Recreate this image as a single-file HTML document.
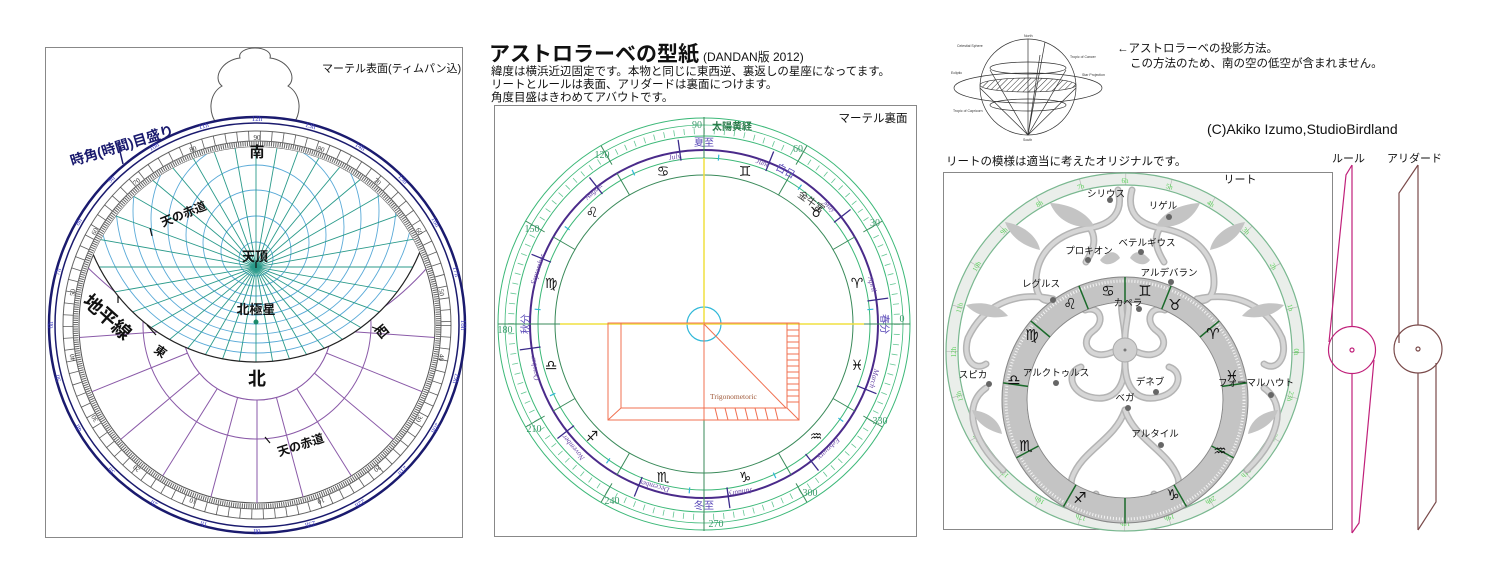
<!DOCTYPE html>
<html><head><meta charset="utf-8"><style>
html,body{margin:0;padding:0;background:#fff;}
svg{display:block;font-family:"Liberation Sans","Noto Sans CJK JP",sans-serif;}
.jp{font-family:"Liberation Sans","Noto Sans CJK JP",sans-serif;}
.sr{font-family:"Liberation Serif",serif;}
.zd{font-family:"DejaVu Sans",sans-serif;}
</style></head><body>
<svg width="1486" height="586" viewBox="0 0 1486 586" xmlns="http://www.w3.org/2000/svg">
<defs>
<clipPath id="cpH"><circle cx="256" cy="185" r="177"/></clipPath>
<clipPath id="cpP"><circle cx="257" cy="325" r="178"/></clipPath>
<pattern id="hatch" width="4" height="4" patternUnits="userSpaceOnUse" patternTransform="rotate(45)"><line x1="0" y1="0" x2="0" y2="4" stroke="#333" stroke-width="1"/></pattern>
</defs>

<!-- ===== LEFT PANEL ===== -->
<rect x="45.5" y="47.5" width="417" height="490" fill="#fff" stroke="#888"/>
<path d="M218,125 C208,115 208,94 222,86 C212,78 222,60 240,58 C238,52 246,48 255,48 C264,48 272,52 270,58 C288,60 298,78 288,86 C302,94 302,115 292,125 Z" fill="#fff" stroke="#555"/>
<circle cx="257" cy="325" r="208" fill="#fff" stroke="#1a1a6e" stroke-width="2.5"/>
<circle cx="257" cy="325" r="202" fill="none" stroke="#1a1a6e" stroke-width="1.5"/>
<circle cx="257" cy="325" r="194" fill="none" stroke="#666" stroke-width="1"/>
<circle cx="257" cy="325" r="189" fill="none" stroke="#333" stroke-width="10" stroke-dasharray="0.8 10.8" opacity="0.8"/>
<circle cx="257" cy="325" r="184" fill="none" stroke="#666" stroke-width="1"/>
<circle cx="257" cy="325" r="181.5" fill="none" stroke="#666" stroke-width="5" stroke-dasharray="1 1.2"/>
<circle cx="257" cy="325" r="178" fill="none" stroke="#555" stroke-width="1"/>
<g fill="#3a3ac0" font-size="7" text-anchor="middle" class="sr">
<text x="257" y="121" transform="rotate(0 257 325)">12h</text>
<text x="257" y="121" transform="rotate(15 257 325)">13h</text>
<text x="257" y="121" transform="rotate(30 257 325)">14h</text>
<text x="257" y="121" transform="rotate(45 257 325)">15h</text>
<text x="257" y="121" transform="rotate(60 257 325)">16h</text>
<text x="257" y="121" transform="rotate(75 257 325)">17h</text>
<text x="257" y="121" transform="rotate(90 257 325)">18h</text>
<text x="257" y="121" transform="rotate(105 257 325)">19h</text>
<text x="257" y="121" transform="rotate(120 257 325)">20h</text>
<text x="257" y="121" transform="rotate(135 257 325)">21h</text>
<text x="257" y="121" transform="rotate(150 257 325)">22h</text>
<text x="257" y="121" transform="rotate(165 257 325)">23h</text>
<text x="257" y="121" transform="rotate(180 257 325)">0h</text>
<text x="257" y="121" transform="rotate(195 257 325)">1h</text>
<text x="257" y="121" transform="rotate(210 257 325)">2h</text>
<text x="257" y="121" transform="rotate(225 257 325)">3h</text>
<text x="257" y="121" transform="rotate(240 257 325)">4h</text>
<text x="257" y="121" transform="rotate(255 257 325)">5h</text>
<text x="257" y="121" transform="rotate(270 257 325)">6h</text>
<text x="257" y="121" transform="rotate(285 257 325)">7h</text>
<text x="257" y="121" transform="rotate(300 257 325)">8h</text>
<text x="257" y="121" transform="rotate(315 257 325)">9h</text>
<text x="257" y="121" transform="rotate(330 257 325)">10h</text>
<text x="257" y="121" transform="rotate(345 257 325)">11h</text>
</g>
<g fill="#333" font-size="7" text-anchor="middle" class="sr">
<text x="257" y="140" transform="rotate(0 257 325)">90</text>
<text x="257" y="140" transform="rotate(20 257 325)">80</text>
<text x="257" y="140" transform="rotate(-20 257 325)">80</text>
<text x="257" y="140" transform="rotate(40 257 325)">70</text>
<text x="257" y="140" transform="rotate(-40 257 325)">70</text>
<text x="257" y="140" transform="rotate(60 257 325)">60</text>
<text x="257" y="140" transform="rotate(-60 257 325)">60</text>
<text x="257" y="140" transform="rotate(80 257 325)">50</text>
<text x="257" y="140" transform="rotate(-80 257 325)">50</text>
<text x="257" y="140" transform="rotate(100 257 325)">40</text>
<text x="257" y="140" transform="rotate(-100 257 325)">40</text>
<text x="257" y="140" transform="rotate(120 257 325)">30</text>
<text x="257" y="140" transform="rotate(-120 257 325)">30</text>
<text x="257" y="140" transform="rotate(140 257 325)">20</text>
<text x="257" y="140" transform="rotate(-140 257 325)">20</text>
<text x="257" y="140" transform="rotate(160 257 325)">10</text>
<text x="257" y="140" transform="rotate(-160 257 325)">10</text>
</g>
<g stroke="#8a5aa8" stroke-width="1" fill="none">
<circle cx="257" cy="325" r="75"/>
<circle cx="257" cy="325" r="114"/>
<g clip-path="url(#cpP)">
<line x1="257" y1="400" x2="257" y2="505"/>
<line x1="257" y1="325" x2="257" y2="505" transform="rotate(15 257 325)"/>
<line x1="257" y1="325" x2="257" y2="505" transform="rotate(-15 257 325)"/>
<line x1="257" y1="325" x2="257" y2="505" transform="rotate(32 257 325)"/>
<line x1="257" y1="325" x2="257" y2="505" transform="rotate(-32 257 325)"/>
<line x1="257" y1="325" x2="257" y2="505" transform="rotate(50 257 325)"/>
<line x1="257" y1="325" x2="257" y2="505" transform="rotate(-50 257 325)"/>
<line x1="257" y1="325" x2="257" y2="505" transform="rotate(68 257 325)"/>
<line x1="257" y1="325" x2="257" y2="505" transform="rotate(-68 257 325)"/>
<line x1="257" y1="325" x2="257" y2="505" transform="rotate(86 257 325)"/>
<line x1="257" y1="325" x2="257" y2="505" transform="rotate(-86 257 325)"/>
<path d="M80,260 C120,300 150,320 190,335"/>
<path d="M434,260 C400,300 370,320 330,335"/>
</g>
</g>
<circle cx="257" cy="325" r="75" fill="#fff"/>
<circle cx="257" cy="325" r="75" fill="none" stroke="#8a5aa8"/>
<g clip-path="url(#cpH)"><g clip-path="url(#cpP)">
<rect x="60" y="100" width="400" height="300" fill="#fff"/>
<g stroke="#5aaad8" stroke-width="0.9" fill="none">
<circle cx="256" cy="259" r="17"/><circle cx="256" cy="251" r="35"/>
<circle cx="256" cy="243" r="53"/><circle cx="256" cy="235" r="70"/>
<circle cx="256" cy="227" r="88"/><circle cx="256" cy="219" r="105"/>
<circle cx="256" cy="211" r="123"/><circle cx="256" cy="203" r="140"/>
<circle cx="256" cy="195" r="158"/>
</g>
<g stroke="#2a9a8a" stroke-width="0.9">
<line x1="256" y1="90" x2="256" y2="450"/>
<line x1="256" y1="90" x2="256" y2="450" transform="rotate(10 256 267)"/>
<line x1="256" y1="90" x2="256" y2="450" transform="rotate(20 256 267)"/>
<line x1="256" y1="90" x2="256" y2="450" transform="rotate(30 256 267)"/>
<line x1="256" y1="90" x2="256" y2="450" transform="rotate(40 256 267)"/>
<line x1="256" y1="90" x2="256" y2="450" transform="rotate(50 256 267)"/>
<line x1="256" y1="90" x2="256" y2="450" transform="rotate(60 256 267)"/>
<line x1="256" y1="90" x2="256" y2="450" transform="rotate(70 256 267)"/>
<line x1="256" y1="90" x2="256" y2="450" transform="rotate(80 256 267)"/>
<line x1="256" y1="90" x2="256" y2="450" transform="rotate(90 256 267)"/>
<line x1="256" y1="90" x2="256" y2="450" transform="rotate(100 256 267)"/>
<line x1="256" y1="90" x2="256" y2="450" transform="rotate(110 256 267)"/>
<line x1="256" y1="90" x2="256" y2="450" transform="rotate(120 256 267)"/>
<line x1="256" y1="90" x2="256" y2="450" transform="rotate(130 256 267)"/>
<line x1="256" y1="90" x2="256" y2="450" transform="rotate(140 256 267)"/>
<line x1="256" y1="90" x2="256" y2="450" transform="rotate(150 256 267)"/>
<line x1="256" y1="90" x2="256" y2="450" transform="rotate(160 256 267)"/>
<line x1="256" y1="90" x2="256" y2="450" transform="rotate(170 256 267)"/>
</g>
</g></g>
<circle cx="256" cy="185" r="177" fill="none" stroke="#222" stroke-width="1.2" clip-path="url(#cpP)"/>
<circle cx="256" cy="322" r="2.5" fill="#1a8a6a"/>
<g class="jp" font-weight="bold" fill="#111" text-anchor="middle">
<text x="257" y="157" font-size="15">南</text>
<text x="255" y="261" font-size="13">天頂</text>
<text x="256" y="314" font-size="13">北極星</text>
<text x="257" y="385" font-size="18">北</text>
<text x="185" y="218" font-size="12" transform="rotate(-22 185 218)">天の赤道</text>
<text x="103" y="322" font-size="19" transform="rotate(42 103 322)">地平線</text>
<text x="158" y="355" font-size="12" transform="rotate(35 158 355)">東</text>
<text x="385" y="335" font-size="13" transform="rotate(-40 385 335)">西</text>
<text x="302" y="449" font-size="12" transform="rotate(-18 302 449)">天の赤道</text>
</g>
<text x="72" y="166" font-size="14" font-weight="bold" fill="#1a1a6e" class="jp" transform="rotate(-17 72 166)">時角(時間)目盛り</text>
<g stroke="#111" stroke-width="1.2" fill="none">
<line x1="118" y1="143" x2="123" y2="164" stroke="#1a1a6e" stroke-width="1.5"/>
<line x1="150" y1="228" x2="152" y2="236"/><line x1="256" y1="262" x2="256" y2="268"/>
<line x1="147" y1="325" x2="156" y2="335"/><line x1="118" y1="296" x2="118" y2="303"/>
<line x1="372" y1="327" x2="380" y2="330"/><line x1="265" y1="437" x2="270" y2="443"/>
</g>
<text x="322" y="72" font-size="11" class="jp" fill="#111">マーテル表面(ティムパン込)</text>

<!-- ===== TOP TEXT ===== -->
<text x="489" y="61" class="jp" font-size="21" font-weight="bold" fill="#111">アストロラーベの型紙<tspan font-size="12" font-weight="normal" dx="4">(DANDAN版  2012)</tspan></text>
<g class="jp" font-size="11.5" fill="#111">
<text x="491" y="75">緯度は横浜近辺固定です。本物と同じに東西逆、裏返しの星座になってます。</text>
<text x="491" y="88">リートとルールは表面、アリダードは裏面につけます。</text>
<text x="491" y="101">角度目盛はきわめてアバウトです。</text>
</g>

<!-- ===== MIDDLE PANEL ===== -->
<rect x="494.5" y="105.5" width="422" height="431" fill="#fff" stroke="#888"/>
<g fill="none">
<circle cx="704" cy="324" r="206" stroke="#3cb878"/>
<circle cx="704" cy="324" r="199" stroke="#3cb878" stroke-width="0.8"/>
<circle cx="704" cy="324" r="193" stroke="#3cb878" stroke-width="6" stroke-dasharray="0.8 9.3" opacity="0.8"/>
<circle cx="704" cy="324" r="188" stroke="#3cb878"/>
<circle cx="704" cy="324" r="174" stroke="#4a2a8a" stroke-width="2"/>
<circle cx="704" cy="324" r="166" stroke="#3cb878"/>
<circle cx="704" cy="324" r="149" stroke="#3a8a5a"/>
<circle cx="704" cy="324" r="17" stroke="#30b8d8" stroke-width="1.2"/>
</g>
<g stroke="#3a8a5a" stroke-width="1">
<line x1="853" y1="324" x2="878" y2="324"/>
<line x1="853" y1="324" x2="878" y2="324" transform="rotate(-30 704 324)"/>
<line x1="853" y1="324" x2="878" y2="324" transform="rotate(-60 704 324)"/>
<line x1="853" y1="324" x2="878" y2="324" transform="rotate(-90 704 324)"/>
<line x1="853" y1="324" x2="878" y2="324" transform="rotate(-120 704 324)"/>
<line x1="853" y1="324" x2="878" y2="324" transform="rotate(-150 704 324)"/>
<line x1="853" y1="324" x2="878" y2="324" transform="rotate(-180 704 324)"/>
<line x1="853" y1="324" x2="878" y2="324" transform="rotate(-210 704 324)"/>
<line x1="853" y1="324" x2="878" y2="324" transform="rotate(-240 704 324)"/>
<line x1="853" y1="324" x2="878" y2="324" transform="rotate(-270 704 324)"/>
<line x1="853" y1="324" x2="878" y2="324" transform="rotate(-300 704 324)"/>
<line x1="853" y1="324" x2="878" y2="324" transform="rotate(-330 704 324)"/>
<line x1="888" y1="324" x2="910" y2="324" transform="rotate(-30 704 324)"/>
<line x1="888" y1="324" x2="910" y2="324" transform="rotate(-60 704 324)"/>
<line x1="888" y1="324" x2="910" y2="324" transform="rotate(-120 704 324)"/>
<line x1="888" y1="324" x2="910" y2="324" transform="rotate(-150 704 324)"/>
<line x1="888" y1="324" x2="910" y2="324" transform="rotate(-210 704 324)"/>
<line x1="888" y1="324" x2="910" y2="324" transform="rotate(-240 704 324)"/>
<line x1="888" y1="324" x2="910" y2="324" transform="rotate(-300 704 324)"/>
<line x1="888" y1="324" x2="910" y2="324" transform="rotate(-330 704 324)"/>
</g>
<g stroke="#3a2a8a" stroke-width="1.3">
<line x1="869" y1="324" x2="890" y2="324" transform="rotate(-8 704 324)"/>
<line x1="869" y1="324" x2="890" y2="324" transform="rotate(-38 704 324)"/>
<line x1="869" y1="324" x2="890" y2="324" transform="rotate(-68 704 324)"/>
<line x1="869" y1="324" x2="890" y2="324" transform="rotate(-98 704 324)"/>
<line x1="869" y1="324" x2="890" y2="324" transform="rotate(-128 704 324)"/>
<line x1="869" y1="324" x2="890" y2="324" transform="rotate(-158 704 324)"/>
<line x1="869" y1="324" x2="890" y2="324" transform="rotate(-188 704 324)"/>
<line x1="869" y1="324" x2="890" y2="324" transform="rotate(-218 704 324)"/>
<line x1="869" y1="324" x2="890" y2="324" transform="rotate(-248 704 324)"/>
<line x1="869" y1="324" x2="890" y2="324" transform="rotate(-278 704 324)"/>
<line x1="869" y1="324" x2="890" y2="324" transform="rotate(-308 704 324)"/>
<line x1="869" y1="324" x2="890" y2="324" transform="rotate(-338 704 324)"/>
</g>
<g stroke="#30b8d8" stroke-width="1.2">
<line x1="868" y1="324" x2="874" y2="324" transform="rotate(-5 704 324)"/>
<line x1="868" y1="324" x2="874" y2="324" transform="rotate(-55 704 324)"/>
<line x1="868" y1="324" x2="874" y2="324" transform="rotate(-85 704 324)"/>
<line x1="868" y1="324" x2="874" y2="324" transform="rotate(-115 704 324)"/>
<line x1="868" y1="324" x2="874" y2="324" transform="rotate(-145 704 324)"/>
<line x1="868" y1="324" x2="874" y2="324" transform="rotate(-175 704 324)"/>
<line x1="868" y1="324" x2="874" y2="324" transform="rotate(-205 704 324)"/>
<line x1="868" y1="324" x2="874" y2="324" transform="rotate(-235 704 324)"/>
<line x1="868" y1="324" x2="874" y2="324" transform="rotate(-265 704 324)"/>
<line x1="868" y1="324" x2="874" y2="324" transform="rotate(-295 704 324)"/>
<line x1="868" y1="324" x2="874" y2="324" transform="rotate(-325 704 324)"/>
</g>
<line x1="704" y1="117" x2="704" y2="158" stroke="#3a8a5a"/>
<line x1="704" y1="420" x2="704" y2="531" stroke="#3a8a5a"/>
<line x1="498" y1="324" x2="560" y2="324" stroke="#3a8a5a"/>
<line x1="864" y1="324" x2="910" y2="324" stroke="#3a8a5a"/>
<line x1="704" y1="158" x2="704" y2="324" stroke="#f0e040" stroke-width="1.5"/>
<line x1="560" y1="324" x2="864" y2="324" stroke="#f0e040" stroke-width="1.5"/>
<g stroke="#f07050" fill="none" stroke-width="1">
<rect x="608" y="323" width="191" height="97"/>
<rect x="621" y="323" width="166" height="85"/>
<line x1="608" y1="420" x2="621" y2="408"/><line x1="799" y1="420" x2="787" y2="408"/>
<line x1="704" y1="324" x2="704" y2="420"/><line x1="704" y1="324" x2="786" y2="408"/>
<path d="M787,330h12M787,336h12M787,342h12M787,348h12M787,354h12M787,360h12M787,366h12M787,372h12M787,378h12M787,384h12M787,390h12M787,396h12M787,402h12"/>
<path d="M715,408l3,12M725,408l3,12M735,408l3,12M745,408l3,12M755,408l3,12M765,408l3,12M775,408l3,12"/>
</g>
<text x="710" y="399" font-size="7.5" class="sr" fill="#a05a3a">Trigonometoric</text>
<g class="zd" font-size="14" font-weight="bold" fill="#111" text-anchor="middle">
<text x="857" y="288">♈</text><text x="816" y="217">♉</text><text x="745" y="176">♊</text>
<text x="663" y="176">♋</text><text x="592" y="217">♌</text><text x="551" y="288">♍</text>
<text x="551" y="370">♎</text><text x="592" y="441">♐</text><text x="663" y="482">♏</text>
<text x="745" y="482">♑</text><text x="816" y="441">♒</text><text x="857" y="370">♓</text>
</g>
<g class="sr" font-size="10" fill="#3a9a6a" text-anchor="middle">
<text x="697" y="128">90</text><text x="798" y="152">60</text><text x="875" y="226">30</text>
<text x="902" y="322">0</text><text x="880" y="424">330</text><text x="810" y="496">300</text>
<text x="716" y="527">270</text><text x="612" y="504">240</text><text x="534" y="432">210</text>
<text x="505" y="333">180</text><text x="532" y="232">150</text><text x="602" y="158">120</text>
</g>
<text x="712" y="130" class="jp" font-size="10" font-weight="bold" fill="#2a7a4a">太陽黄経</text>
<g class="jp" font-size="10" fill="#5a4ab8" text-anchor="middle">
<text x="704" y="146">夏至</text><text x="704" y="509">冬至</text>
<text x="525" y="328" transform="rotate(-90 525 324)">秋分</text>
<text x="885" y="328" transform="rotate(90 885 324)">春分</text>
<text x="784" y="174" transform="rotate(28 784 174)">白日</text>
</g>
<text x="797" y="196" class="jp" font-size="10" fill="#333" transform="rotate(35 797 196)">金牛宮</text>
<g class="sr" font-size="7.5" fill="#6a4aa8" font-style="italic" text-anchor="middle">
<text x="675" y="159" transform="rotate(-10 675 159)">July</text>
<text x="762" y="165" transform="rotate(20 762 165)">June</text>
<text x="828" y="208" transform="rotate(45 828 208)">May</text>
<text x="870" y="285" transform="rotate(75 870 285)">April</text>
<text x="872" y="378" transform="rotate(105 872 378)">March</text>
<text x="827" y="447" transform="rotate(135 827 447)">February</text>
<text x="740" y="490" transform="rotate(170 740 490)">January</text>
<text x="655" y="484" transform="rotate(195 655 484)">December</text>
<text x="575" y="446" transform="rotate(230 575 446)">November</text>
<text x="537" y="368" transform="rotate(-100 537 368)">October</text>
<text x="540" y="270" transform="rotate(-72 540 270)">September</text>
<text x="595" y="193" transform="rotate(-42 595 193)">August</text>
</g>
<text x="873" y="122" class="jp" font-size="11.5" fill="#111" text-anchor="middle">マーテル裏面</text>

<!-- ===== SPHERE DIAGRAM ===== -->
<g fill="none" stroke="#333" stroke-width="0.7">
<circle cx="1028" cy="87" r="48"/>
<ellipse cx="1028" cy="88" rx="74" ry="15"/>
<ellipse cx="1028" cy="85" rx="48" ry="7" fill="url(#hatch)"/>
<ellipse cx="1028" cy="68" rx="38" ry="6"/>
<ellipse cx="1028" cy="105" rx="38" ry="6"/>
<line x1="1028" y1="39" x2="1028" y2="135"/>
<path d="M1028,135L980,88M1028,135L990,70M1028,135L1040,55M1028,135L1066,70M1028,135L1076,88M1028,135L1045,42"/>
</g>
<g font-size="3.5" fill="#333"><text x="957" y="47">Celestial Sphere</text><text x="1024" y="37">North</text><text x="1070" y="58">Tropic of Cancer</text><text x="1082" y="76">Star Projection</text><text x="951" y="74">Ecliptic</text><text x="953" y="112">Tropic of Capricorn</text><text x="1023" y="141">South</text></g>
<g class="jp" font-size="11.5" fill="#111">
<text x="1117" y="52">←アストロラーベの投影方法。</text>
<text x="1130" y="67">この方法のため、南の空の低空が含まれません。</text>
<text x="1207" y="134" font-size="14">(C)Akiko Izumo,StudioBirdland</text>
<text x="946" y="165">リートの模様は適当に考えたオリジナルです。</text>
<text x="1332" y="162" font-size="11">ルール</text>
<text x="1387" y="162" font-size="11">アリダード</text>
</g>

<!-- ===== RIGHT PANEL (RETE) ===== -->
<rect x="943.5" y="172.5" width="389" height="357" fill="#fff" stroke="#888"/>
<circle cx="1125" cy="352" r="173" fill="none" stroke="#eaeeea" stroke-width="13"/>
<circle cx="1125" cy="352" r="179" fill="none" stroke="#7ab890" stroke-width="1.2"/>
<circle cx="1125" cy="352" r="167" fill="none" stroke="#7ab890" stroke-width="1.2"/>
<circle cx="1125" cy="352" r="173" fill="none" stroke="#999" stroke-width="12" stroke-dasharray="0.6 44.7" opacity="0.7"/>
<g fill="#5ad05a" font-size="7" text-anchor="middle" class="sr">
<text x="1125" y="183" transform="rotate(0 1125 352)">6h</text>
<text x="1125" y="183" transform="rotate(15 1125 352)">5h</text>
<text x="1125" y="183" transform="rotate(30 1125 352)">4h</text>
<text x="1125" y="183" transform="rotate(45 1125 352)">3h</text>
<text x="1125" y="183" transform="rotate(60 1125 352)">2h</text>
<text x="1125" y="183" transform="rotate(75 1125 352)">1h</text>
<text x="1125" y="183" transform="rotate(90 1125 352)">0h</text>
<text x="1125" y="183" transform="rotate(105 1125 352)">23h</text>
<text x="1125" y="183" transform="rotate(120 1125 352)">22h</text>
<text x="1125" y="183" transform="rotate(135 1125 352)">21h</text>
<text x="1125" y="183" transform="rotate(150 1125 352)">20h</text>
<text x="1125" y="183" transform="rotate(165 1125 352)">19h</text>
<text x="1125" y="183" transform="rotate(180 1125 352)">18h</text>
<text x="1125" y="183" transform="rotate(195 1125 352)">17h</text>
<text x="1125" y="183" transform="rotate(210 1125 352)">16h</text>
<text x="1125" y="183" transform="rotate(225 1125 352)">15h</text>
<text x="1125" y="183" transform="rotate(240 1125 352)">14h</text>
<text x="1125" y="183" transform="rotate(255 1125 352)">13h</text>
<text x="1125" y="183" transform="rotate(270 1125 352)">12h</text>
<text x="1125" y="183" transform="rotate(285 1125 352)">11h</text>
<text x="1125" y="183" transform="rotate(300 1125 352)">10h</text>
<text x="1125" y="183" transform="rotate(315 1125 352)">9h</text>
<text x="1125" y="183" transform="rotate(330 1125 352)">8h</text>
<text x="1125" y="183" transform="rotate(345 1125 352)">7h</text>
</g>
<g id="fl" fill="none" stroke-linecap="round">
<g stroke="#b4b4b4" stroke-width="7">
<path d="M1118,190 C1124,212 1112,224 1090,228 C1058,233 1036,252 1036,282 C1036,298 1046,304 1053,299"/>
<path d="M1053,299 C1012,290 982,308 968,338 C962,358 974,372 986,364"/>
<path d="M1003,470 C972,440 962,405 986,388"/>
<path d="M1113,352 C1090,362 1078,342 1093,331 C1106,322 1100,305 1085,310"/>
<path d="M1125,362 C1125,392 1110,402 1090,397 C1070,392 1066,372 1081,367"/>
<path d="M1125,410 C1115,440 1082,450 1072,478 C1067,498 1086,505 1096,494"/>
<path d="M1125,338 C1125,322 1118,308 1124,294"/>
<path d="M1090,228 C1098,240 1092,252 1086,262"/>
</g>
<g stroke="#d6d6d6" stroke-width="4">
<path d="M1118,190 C1124,212 1112,224 1090,228 C1058,233 1036,252 1036,282 C1036,298 1046,304 1053,299"/>
<path d="M1053,299 C1012,290 982,308 968,338 C962,358 974,372 986,364"/>
<path d="M1003,470 C972,440 962,405 986,388"/>
<path d="M1113,352 C1090,362 1078,342 1093,331 C1106,322 1100,305 1085,310"/>
<path d="M1125,362 C1125,392 1110,402 1090,397 C1070,392 1066,372 1081,367"/>
<path d="M1125,410 C1115,440 1082,450 1072,478 C1067,498 1086,505 1096,494"/>
<path d="M1125,338 C1125,322 1118,308 1124,294"/>
<path d="M1090,228 C1098,240 1092,252 1086,262"/>
</g>
<g fill="#c4c4c4" stroke="none">
<path d="M1050,203 C1072,204 1088,214 1094,226 C1072,230 1056,218 1050,203 Z"/>
<path d="M1005,222 C1025,225 1038,238 1040,250 C1022,246 1010,236 1005,222 Z"/>
<path d="M966,305 C985,300 1000,306 1008,316 C990,320 975,315 966,305 Z"/>
<path d="M972,410 C990,412 1000,422 1002,434 C986,430 976,422 972,410 Z"/>
<path d="M1100,260 C1108,250 1116,250 1120,258 C1112,266 1104,266 1100,260 Z"/>
</g>
</g>
<use href="#fl" transform="translate(2250,0) scale(-1,1)"/>
<circle cx="1125" cy="350" r="12" fill="#d0d0d0" stroke="#aaa"/>
<circle cx="1125" cy="350" r="1.5" fill="#777"/>
<circle cx="1125" cy="400" r="111" fill="none" stroke="#c4c4c4" stroke-width="25"/>
<circle cx="1125" cy="400" r="123" fill="none" stroke="#888" stroke-width="1"/>
<circle cx="1125" cy="400" r="98" fill="none" stroke="#888" stroke-width="1"/>
<circle cx="1125" cy="400" r="119" fill="none" stroke="#fff" stroke-width="3" stroke-dasharray="1 2" opacity="0.8"/>
<g stroke="#1a6a2a" stroke-width="1.5">
<line x1="1125" y1="277" x2="1125" y2="302"/>
<line x1="1125" y1="277" x2="1125" y2="302" transform="rotate(22 1125 400)"/>
<line x1="1125" y1="277" x2="1125" y2="302" transform="rotate(-22 1125 400)"/>
<line x1="1125" y1="277" x2="1125" y2="302" transform="rotate(50 1125 400)"/>
<line x1="1125" y1="277" x2="1125" y2="302" transform="rotate(-50 1125 400)"/>
<line x1="1125" y1="277" x2="1125" y2="302" transform="rotate(82 1125 400)"/>
<line x1="1125" y1="277" x2="1125" y2="302" transform="rotate(-82 1125 400)"/>
<line x1="1125" y1="277" x2="1125" y2="302" transform="rotate(118 1125 400)"/>
<line x1="1125" y1="277" x2="1125" y2="302" transform="rotate(-118 1125 400)"/>
<line x1="1125" y1="277" x2="1125" y2="302" transform="rotate(150 1125 400)"/>
<line x1="1125" y1="277" x2="1125" y2="302" transform="rotate(-150 1125 400)"/>
<line x1="1125" y1="277" x2="1125" y2="302" transform="rotate(180 1125 400)"/>
</g>
<g class="zd" font-size="15" font-weight="bold" fill="#111" text-anchor="middle">
<text x="1108" y="296">♋</text><text x="1145" y="296">♊</text><text x="1175" y="310">♉</text>
<text x="1213" y="339">♈</text><text x="1232" y="381">♓</text><text x="1220" y="456">♒</text>
<text x="1173" y="500">♑</text><text x="1080" y="503">♐</text><text x="1026" y="451">♏</text>
<text x="1014" y="385">♎</text><text x="1032" y="340">♍</text><text x="1070" y="309">♌</text>
</g>
<g class="jp" font-size="9.5" fill="#111" text-anchor="middle">
<text x="1106" y="197">シリウス</text><text x="1163" y="209">リゲル</text>
<text x="1089" y="254">プロキオン</text><text x="1147" y="246">ベテルギウス</text>
<text x="1169" y="276">アルデバラン</text><text x="1041" y="287">レグルス</text>
<text x="1128" y="306">カペラ</text><text x="973" y="378">スピカ</text>
<text x="1056" y="376">アルクトゥルス</text><text x="1150" y="385">デネブ</text>
<text x="1256" y="386">フォーマルハウト</text><text x="1125" y="401">ベガ</text>
<text x="1155" y="437">アルタイル</text>
<text x="1240" y="183" font-size="11">リート</text>
</g>
<g fill="#666">
<circle cx="1110" cy="200" r="3"/><circle cx="1169" cy="217" r="3"/><circle cx="1088" cy="260" r="3"/>
<circle cx="1141" cy="252" r="3"/><circle cx="1171" cy="282" r="3"/><circle cx="1053" cy="300" r="3"/>
<circle cx="1139" cy="309" r="3"/><circle cx="989" cy="384" r="3"/><circle cx="1056" cy="383" r="3"/>
<circle cx="1156" cy="392" r="3"/><circle cx="1271" cy="395" r="3"/><circle cx="1128" cy="408" r="3"/>
<circle cx="1161" cy="445" r="3"/>
</g>

<!-- ===== RULE & ALIDADE ===== -->
<g fill="none" stroke="#c0207a" stroke-width="1.2">
<path d="M1352,165 L1346,175 L1329,342"/>
<path d="M1374,360 L1359,523 L1352,533"/>
<line x1="1352" y1="165" x2="1352" y2="326"/>
<line x1="1352" y1="374" x2="1352" y2="533"/>
<circle cx="1352" cy="350" r="23.5"/>
<circle cx="1352" cy="350" r="2"/>
</g>
<g fill="none" stroke="#7a4a4a" stroke-width="1.2">
<path d="M1418,165 L1399,193 L1399,343"/>
<path d="M1436,363 L1436,502 L1418,530"/>
<line x1="1418" y1="165" x2="1418" y2="325"/>
<line x1="1418" y1="373" x2="1418" y2="530"/>
<circle cx="1418" cy="349" r="24"/>
<circle cx="1418" cy="349" r="2"/>
</g>
</svg>
</body></html>
